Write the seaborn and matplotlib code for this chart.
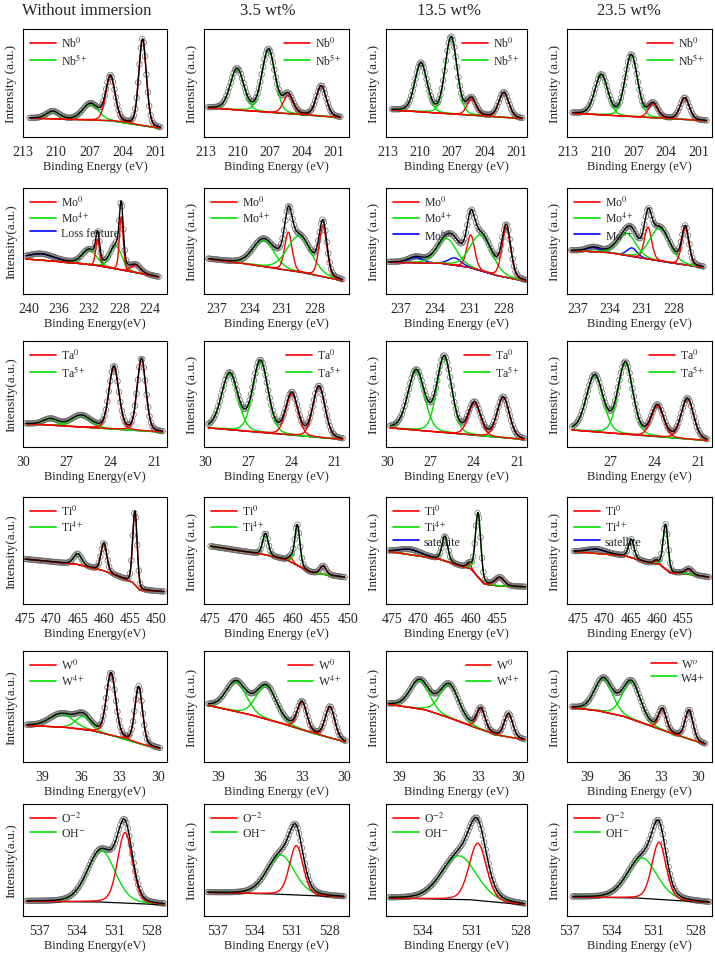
import numpy as np
import matplotlib
matplotlib.use("Agg")
import matplotlib.pyplot as plt
import seaborn as sns
from matplotlib.lines import Line2D
from matplotlib.ticker import FixedLocator, MultipleLocator

# column headers
columns = ["Without immersion", "3.5 wt%", "13.5 wt%", "23.5 wt%"]

# ---------------- Nb 3d ----------------
nb_states = [["Nb$^0$", "Nb$^{5+}$"]] * 4
nb_xlim = [(213.0, 200.0), (213.2, 199.6), (213.15, 200.05), (213.1, 199.8)]
nb_ticks = [[213, 210, 207, 204, 201]] * 4
nb_scan = [(212.4, 200.6), (212.8, 200.4), (212.6, 200.5), (212.6, 200.3)]
nb_bg = [
    [(212.4, 0.175), (205.0, 0.15), (202.5, 0.11), (200.6, 0.08)],
    [(212.8, 0.27), (200.4, 0.18)],
    [(212.6, 0.25), (200.5, 0.17)],
    [(212.6, 0.22), (200.3, 0.15)],
]
# (binding energy, height, fwhm, state index)
nb_peaks = [
    [(210.3, 0.07, 1.4, 1), (206.9, 0.15, 1.7, 1), (205.1, 0.41, 1.0, 0), (202.2, 0.80, 0.8, 0)],
    [(210.1, 0.38, 1.5, 1), (207.15, 0.58, 1.45, 1), (205.3, 0.17, 1.1, 0), (202.2, 0.28, 1.1, 0)],
    [(209.9, 0.45, 1.35, 1), (207.1, 0.71, 1.3, 1), (205.2, 0.15, 1.0, 0), (202.2, 0.23, 1.1, 0)],
    [(209.95, 0.37, 1.4, 1), (207.2, 0.57, 1.35, 1), (205.2, 0.13, 1.0, 0), (202.3, 0.20, 1.0, 0)],
]

# ---------------- Mo 3d ----------------
mo_states = [["Mo$^0$", "Mo$^{4+}$", "Loss feature"], ["Mo$^0$", "Mo$^{4+}$"],
             ["Mo$^0$", "Mo$^{4+}$", "Mo$^{6+}$"], ["Mo$^0$", "Mo$^{4+}$", "Mo$^{6+}$"]]
mo_xlim = [(240.7, 221.8), (238.2, 224.8), (238.3, 226.0), (238.0, 224.4)]
mo_ticks = [[240, 236, 232, 228, 224], [237, 234, 231, 228], [237, 234, 231, 228], [237, 234, 231, 228]]
mo_scan = [(240.3, 222.9), (237.8, 225.4), (238.1, 226.1), (237.6, 225.2)]
mo_bg = [
    [(240.3, 0.33), (235.0, 0.30), (231.0, 0.27), (228.0, 0.23), (225.0, 0.19), (222.9, 0.16)],
    [(237.8, 0.33), (234.0, 0.28), (229.0, 0.20), (225.4, 0.125)],
    [(238.3, 0.30), (233.5, 0.29), (231.0, 0.25), (228.5, 0.17), (226.1, 0.12)],
    [(237.6, 0.41), (234.0, 0.39), (231.0, 0.34), (228.0, 0.29), (225.2, 0.25)],
]
mo_peaks = [
    [(238.3, 0.06, 4.0, 2), (232.0, 0.14, 2.2, 1), (230.9, 0.25, 0.6, 0),
     (228.5, 0.22, 1.8, 1), (227.8, 0.50, 0.6, 0), (225.9, 0.07, 1.5, 0)],
    [(232.7, 0.25, 2.3, 1), (230.4, 0.36, 0.8, 0), (229.4, 0.34, 2.6, 1), (227.2, 0.48, 0.85, 0)],
    [(235.7, 0.05, 1.5, 2), (232.3, 0.07, 1.3, 2), (233.0, 0.24, 2.0, 1),
     (230.9, 0.31, 0.8, 0), (230.0, 0.34, 2.2, 1), (227.8, 0.47, 0.9, 0)],
    [(235.5, 0.04, 1.5, 2), (231.9, 0.08, 1.1, 2), (232.4, 0.21, 2.0, 1),
     (230.4, 0.30, 0.8, 0), (229.3, 0.31, 2.2, 1), (226.9, 0.35, 0.8, 0)],
]

# ---------------- Ta 4f ----------------
ta_states = [["Ta$^0$", "Ta$^{5+}$"]] * 4
ta_xlim = [(30.0, 20.1), (30.1, 19.95), (30.1, 20.3), (30.0, 20.07)]
ta_ticks = [[30, 27, 24, 21], [30, 27, 24, 21], [30, 27, 24, 21], [27, 24, 21]]
ta_scan = [(29.8, 20.4), (29.8, 20.4), (29.8, 20.5), (29.65, 20.4)]
ta_bg = [
    [(29.8, 0.22), (20.4, 0.14)],
    [(29.8, 0.18), (20.4, 0.07)],
    [(29.8, 0.18), (20.5, 0.07)],
    [(29.65, 0.16), (20.4, 0.06)],
]
ta_peaks = [
    [(28.1, 0.06, 1.2, 1), (26.0, 0.11, 1.6, 1), (23.75, 0.59, 0.8, 0), (21.85, 0.68, 0.7, 0)],
    [(28.3, 0.53, 1.35, 1), (26.15, 0.67, 1.25, 1), (23.95, 0.39, 1.0, 0), (22.05, 0.48, 1.0, 0)],
    [(28.0, 0.56, 1.35, 1), (26.05, 0.71, 1.2, 1), (23.95, 0.30, 1.0, 0), (21.95, 0.38, 1.0, 0)],
    [(28.1, 0.53, 1.35, 1), (26.0, 0.67, 1.2, 1), (23.8, 0.29, 1.0, 0), (21.75, 0.38, 1.0, 0)],
]

# ---------------- Ti 2p ----------------
ti_states = [["Ti$^0$", "Ti$^{4+}$"], ["Ti$^0$", "Ti$^{4+}$"],
             ["Ti$^0$", "Ti$^{4+}$", "satellite"], ["Ti$^0$", "Ti$^{4+}$", "satellite"]]
ti_xlim = [(475.4, 448.0), (476.2, 449.8), (476.1, 449.3), (477.1, 449.6)]
ti_ticks = [[475, 470, 465, 460, 455, 450], [475, 470, 465, 460, 455, 450],
            [475, 470, 465, 460, 455], [475, 470, 465, 460, 455]]
ti_scan = [(475.0, 448.6), (475.0, 450.6), (475.5, 449.6), (475.8, 450.2)]
ti_bg = [
    [(475.0, 0.42), (465.0, 0.37), (460.0, 0.31), (456.0, 0.23), (454.5, 0.20), (453.2, 0.13), (448.6, 0.115)],
    [(475.0, 0.54), (465.0, 0.46), (461.0, 0.41), (457.0, 0.30), (455.0, 0.28), (450.6, 0.25)],
    [(475.5, 0.49), (466.0, 0.42), (462.0, 0.355), (460.0, 0.33), (457.5, 0.19), (455.0, 0.17), (449.6, 0.16)],
    [(475.8, 0.49), (466.0, 0.45), (462.0, 0.39), (459.5, 0.37), (457.5, 0.29), (455.5, 0.29), (450.2, 0.25)],
]
ti_peaks = [
    [(465.0, 0.10, 1.8, 1), (460.0, 0.26, 1.3, 0), (454.1, 0.69, 1.0, 0)],
    [(465.0, 0.20, 1.2, 1), (460.4, 0.04, 1.0, 0), (459.2, 0.38, 1.1, 1), (454.5, 0.08, 1.3, 0)],
    [(471.5, 0.05, 5.0, 2), (464.9, 0.23, 1.3, 1), (460.3, 0.04, 1.0, 0),
     (458.6, 0.60, 1.2, 1), (454.5, 0.08, 2.0, 0)],
    [(471.5, 0.04, 4.5, 2), (464.9, 0.17, 1.2, 1), (460.2, 0.03, 1.0, 0),
     (458.4, 0.42, 1.1, 1), (454.0, 0.05, 1.5, 0)],
]

# ---------------- W 4f ----------------
w_states = [["W$^0$", "W$^{4+}$"], ["W$^0$", "W$^{4+}$"], ["W$^0$", "W$^{4+}$"], ["W$^o$", "W4+"]]
w_xlim = [(40.5, 29.3), (40.0, 29.65), (40.0, 29.3), (40.6, 28.9)]
w_ticks = [[39, 36, 33, 30]] * 4
w_scan = [(40.2, 29.85), (39.7, 29.9), (39.8, 29.5), (40.2, 29.45)]
w_bg = [
    [(40.2, 0.33), (37.0, 0.31), (35.0, 0.28), (33.0, 0.22), (31.0, 0.15), (29.85, 0.12)],
    [(39.7, 0.51), (36.5, 0.42), (34.0, 0.33), (32.0, 0.25), (29.9, 0.18)],
    [(39.8, 0.52), (37.0, 0.47), (35.0, 0.39), (33.0, 0.30), (31.5, 0.24), (29.5, 0.20)],
    [(40.2, 0.49), (38.0, 0.46), (36.0, 0.41), (34.0, 0.33), (32.0, 0.25), (29.45, 0.16)],
]
w_peaks = [
    [(37.5, 0.12, 2.2, 1), (35.8, 0.12, 1.4, 1), (33.65, 0.56, 0.85, 0), (31.5, 0.51, 0.7, 0)],
    [(37.7, 0.27, 1.7, 1), (35.55, 0.30, 1.7, 1), (33.0, 0.25, 0.8, 0), (31.0, 0.28, 0.8, 0)],
    [(37.45, 0.26, 1.7, 1), (35.2, 0.30, 1.7, 1), (32.8, 0.19, 0.75, 0), (30.7, 0.21, 0.75, 0)],
    [(37.65, 0.30, 1.7, 1), (35.4, 0.34, 1.7, 1), (32.9, 0.19, 0.75, 0), (30.75, 0.26, 0.75, 0)],
]

# ---------------- O 1s ----------------
o_states = [["O$^{-2}$", "OH$^{-}$"]] * 4
o_xlim = [(538.3, 526.8), (538.1, 526.4), (536.2, 527.6), (537.2, 526.8)]
o_ticks = [[537, 534, 531, 528], [537, 534, 531, 528], [534, 531, 528], [537, 534, 531, 528]]
o_scan = [(538.0, 527.0), (537.8, 526.8), (536.0, 527.75), (536.8, 527.0)]
o_bg = [
    [(538.0, 0.13), (532.0, 0.125), (527.0, 0.10)],
    [(537.8, 0.21), (532.0, 0.195), (526.8, 0.17)],
    [(536.0, 0.16), (531.0, 0.145), (527.75, 0.10)],
    [(536.8, 0.17), (532.0, 0.16), (527.0, 0.12)],
]
o_peaks = [
    [(532.05, 0.46, 2.6, 1), (530.15, 0.63, 1.4, 0)],
    [(531.9, 0.35, 2.6, 1), (530.65, 0.44, 1.3, 0)],
    [(531.75, 0.39, 2.5, 1), (530.6, 0.51, 1.25, 0)],
    [(531.8, 0.36, 2.5, 1), (530.6, 0.51, 1.2, 0)],
]

rows = [
    (nb_states, nb_xlim, nb_ticks, nb_scan, nb_bg, nb_peaks),
    (mo_states, mo_xlim, mo_ticks, mo_scan, mo_bg, mo_peaks),
    (ta_states, ta_xlim, ta_ticks, ta_scan, ta_bg, ta_peaks),
    (ti_states, ti_xlim, ti_ticks, ti_scan, ti_bg, ti_peaks),
    (w_states, w_xlim, w_ticks, w_scan, w_bg, w_peaks),
    (o_states, o_xlim, o_ticks, o_scan, o_bg, o_peaks),
]

# layout (pixels) and styling
W, H = 715, 954
col_px = [(23, 167), (204, 349), (386, 527), (567, 712)]
row_px = [(30, 138), (189, 295), (342, 448), (498, 605), (652, 763), (805, 917)]
title_x = [87, 268, 449, 629]
legend_loc = [
    ["upper left", "upper right", "upper right", "upper right"],
    ["upper left"] * 4,
    ["upper left", "upper right", "upper right", "upper right"],
    ["upper left"] * 4,
    ["upper left", "upper right", "upper right", "upper right"],
    ["upper left"] * 4,
]
state_colors = ["#ff0000", "#00e000", "#0000ff"]


def profile(x, center, height, fwhm):
    # pseudo-Voigt line shape used for the fitted components
    sigma = fwhm / 2.3548
    gauss = np.exp(-0.5 * ((x - center) / sigma) ** 2)
    lorentz = 1.0 / (1.0 + ((x - center) / (fwhm / 2)) ** 2)
    return height * (0.8 * gauss + 0.2 * lorentz)


def baseline(x, knots):
    kx, ky = zip(*sorted(knots))
    return np.interp(x, kx, ky)


def draw_panel(ax, states, xlim, ticks, scan, knots, peaks, loc, xlabel, ylabel):
    lo, hi = min(scan), max(scan)
    x = np.linspace(lo, hi, 600)
    bg = baseline(x, knots)
    total = bg.copy()

    pts = np.linspace(lo, hi, 95)
    pts_y = baseline(pts, knots)
    for c, h, w, s in peaks:
        total = total + profile(x, c, h, w)
        pts_y = pts_y + profile(pts, c, h, w)

    sns.scatterplot(x=pts, y=pts_y, ax=ax, marker="o", s=16, facecolor="none",
                    edgecolor="#6a6a6a", linewidth=0.5, zorder=2, legend=False)
    sns.lineplot(x=x, y=bg, ax=ax, color="black", lw=0.9, sort=False,
                 estimator=None, zorder=3, legend=False)
    for c, h, w, s in peaks:
        sns.lineplot(x=x, y=bg + profile(x, c, h, w), ax=ax, color=state_colors[s],
                     lw=1.0, sort=False, estimator=None, zorder=4, legend=False)
    sns.lineplot(x=x, y=total, ax=ax, color="black", lw=1.0, sort=False,
                 estimator=None, zorder=5, legend=False)

    ax.set_xlim(*xlim)
    ax.set_ylim(0, 1)
    ax.set_yticks([])
    ax.xaxis.set_major_locator(FixedLocator(ticks))
    ax.xaxis.set_minor_locator(MultipleLocator(1))
    ax.tick_params(axis="x", which="major", direction="out", length=4, width=0.8,
                   labelsize=10, pad=2, color="black")
    ax.tick_params(axis="x", which="minor", direction="out", length=2, width=0.7, color="black")
    for sp in ax.spines.values():
        sp.set_color("black")
        sp.set_linewidth(0.8)
    ax.set_xlabel(xlabel, fontsize=9, labelpad=1)
    ax.set_ylabel(ylabel, fontsize=9.5, labelpad=4)

    handles = [Line2D([], [], color=state_colors[i], lw=1.2) for i in range(len(states))]
    ax.legend(handles, states, loc=loc, frameon=False, fontsize=8.5, handlelength=2.2,
              labelspacing=0.12, handletextpad=0.4, borderaxespad=0.3, borderpad=0.3)


sns.set_style("white")
plt.rcParams["font.family"] = ["Liberation Serif", "DejaVu Serif"]
plt.rcParams["mathtext.fontset"] = "stix"

fig = plt.figure(figsize=(W / 100, H / 100), dpi=100)

for r, (states, xlims, ticks, scans, bgs, peaks) in enumerate(rows):
    top, bottom = row_px[r]
    for c in range(4):
        left, right = col_px[c]
        ax = fig.add_axes([left / W, 1 - bottom / H, (right - left) / W, (bottom - top) / H])
        if c == 0 and r > 0:
            xlabel, ylabel = "Binding Energy(eV)", "Intensity(a.u.)"
        else:
            xlabel, ylabel = "Binding Energy (eV)", "Intensity (a.u.)"
        draw_panel(ax, states[c], xlims[c], ticks[c], scans[c], bgs[c], peaks[c],
                   legend_loc[r][c], xlabel, ylabel)

for c, title in enumerate(columns):
    fig.text(title_x[c] / W, 1 - 11 / H, title, ha="center", va="center", fontsize=12)

fig.savefig("out.png", dpi=100)
